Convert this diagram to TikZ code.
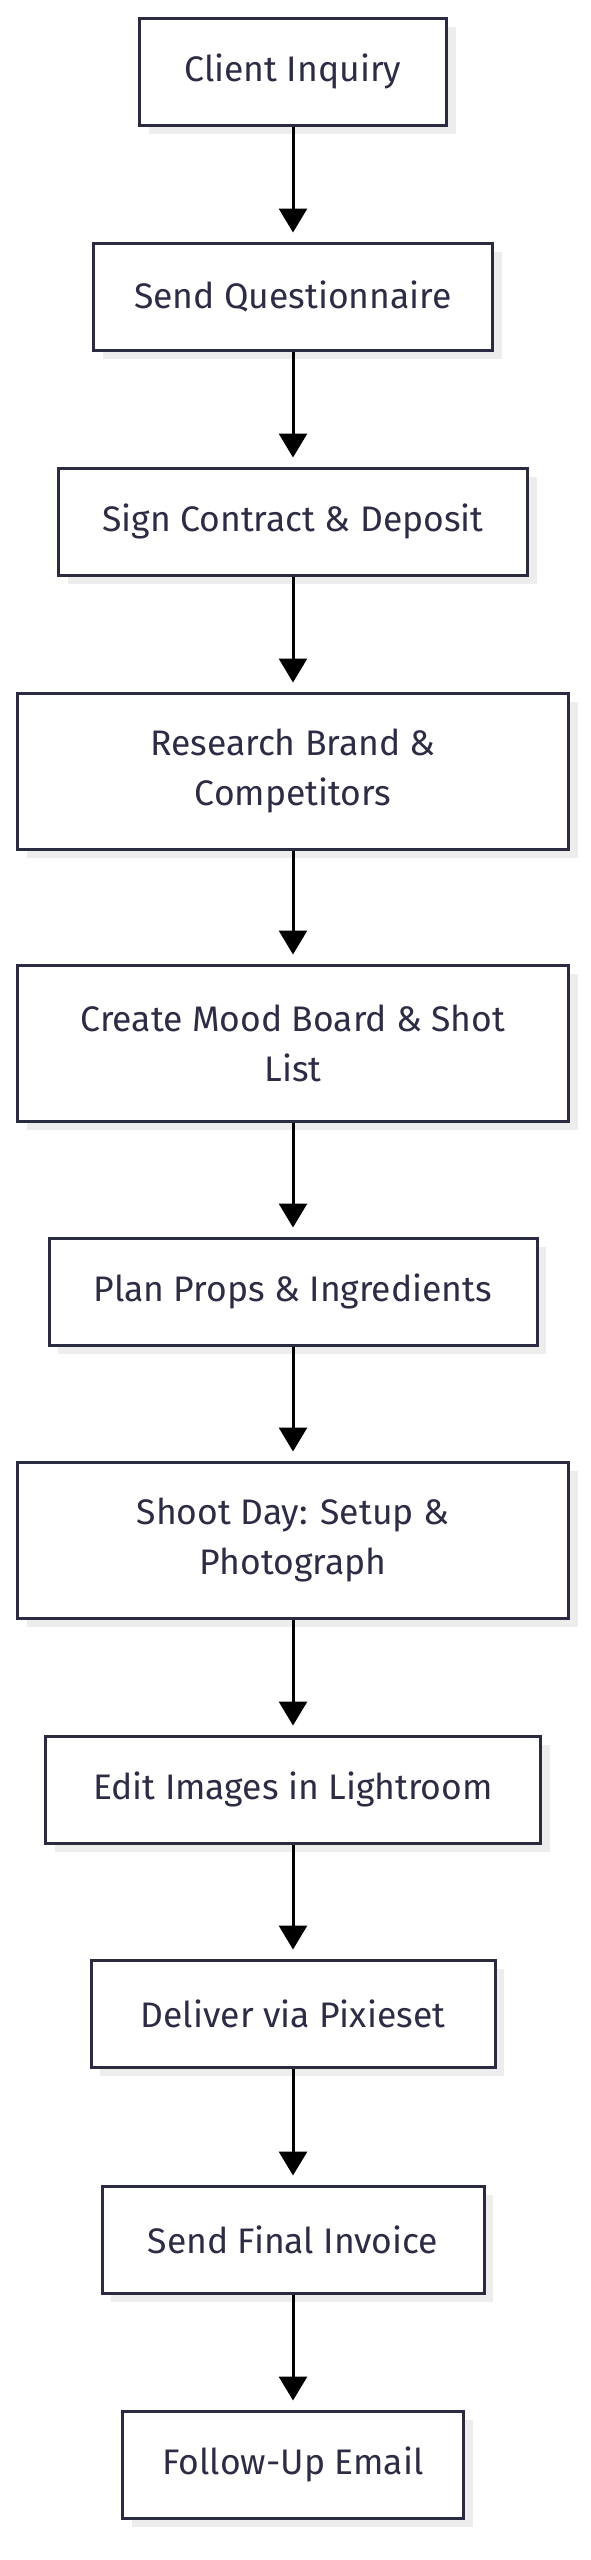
\documentclass[tikz,border=0pt]{standalone}
\usepackage{fontspec}
\setmainfont{Fira Sans}
\usetikzlibrary{arrows.meta,shadows}
\definecolor{edge}{HTML}{2A2A40}
\definecolor{txt}{HTML}{2D2C45}
\definecolor{shade}{HTML}{EDEDED}
\tikzset{
  stepbox/.style={draw=edge, line width=3pt, fill=white, rectangle, align=center,
    text=txt, font=\fontsize{35.5}{50}\selectfont,
    drop shadow={shadow xshift=9pt, shadow yshift=-9pt, fill=shade, opacity=1},
    minimum height=107pt, inner sep=0pt},
  tall/.style={minimum height=156pt},
  flow/.style={line width=3pt, draw=black, -{Triangle[width=28pt,length=24pt]}, shorten >=9pt}
}
\begin{document}
\begin{tikzpicture}[x=1pt,y=-1pt]
\useasboundingbox (0,0) rectangle (591,2560);
\node[stepbox, minimum width=307pt] (n1) at (293,71.5) {Client Inquiry};
\node[stepbox, minimum width=399pt] (n2) at (293,296.5) {Send Questionnaire};
\node[stepbox, minimum width=469pt] (n3) at (293,521.5) {Sign Contract \& Deposit};
\node[stepbox, tall, minimum width=551pt] (n4) at (293,771) {Research Brand \&\\Competitors};
\node[stepbox, tall, minimum width=551pt] (n5) at (293,1043) {Create Mood Board \& Shot\\List};
\node[stepbox, minimum width=488pt] (n6) at (293,1291.5) {Plan Props \& Ingredients};
\node[stepbox, tall, minimum width=551pt] (n7) at (293,1540) {Shoot Day: Setup \&\\Photograph};
\node[stepbox, minimum width=495pt] (n8) at (293,1789.5) {Edit Images in Lightroom};
\node[stepbox, minimum width=404pt] (n9) at (293,2013.5) {Deliver via Pixieset};
\node[stepbox, minimum width=382pt] (n10) at (293,2239.5) {Send Final Invoice};
\node[stepbox, minimum width=341pt] (n11) at (293,2464.5) {Follow-Up Email};
\foreach \a/\b in {n1/n2,n2/n3,n3/n4,n4/n5,n5/n6,n6/n7,n7/n8,n8/n9,n9/n10,n10/n11}
  \draw[flow] (\a.south) -- (\b.north);
\end{tikzpicture}
\end{document}
